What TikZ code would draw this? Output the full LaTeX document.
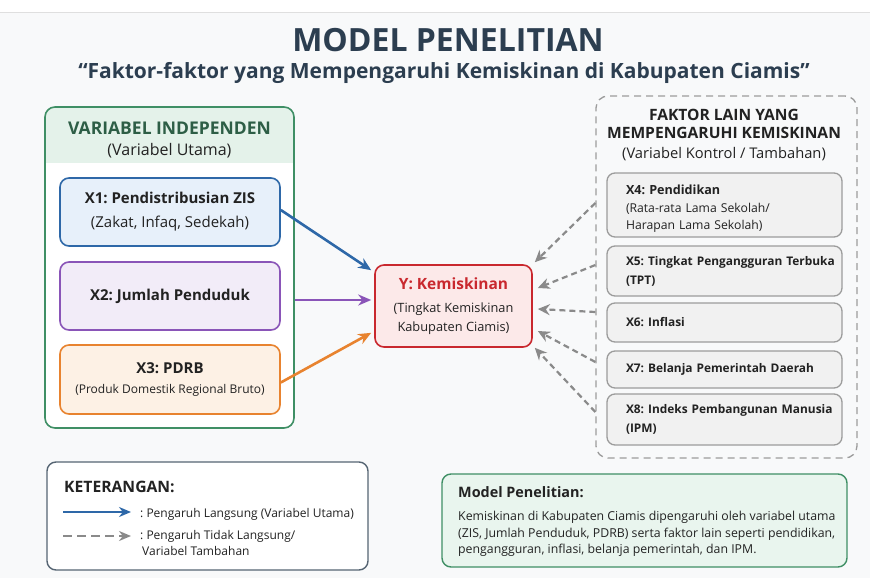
\documentclass[tikz,border=0pt]{standalone}
\usepackage{fontspec}
\setmainfont{Open Sans}
\usetikzlibrary{arrows.meta,calc}
\definecolor{bgc}{HTML}{F8F9FA}
\definecolor{titlec}{HTML}{2C3E50}
\definecolor{txt}{HTML}{222222}
\definecolor{grn}{HTML}{3F8F65}
\definecolor{grnfill}{HTML}{E4F2EA}
\definecolor{grnfill2}{HTML}{E9F5EE}
\definecolor{grntxt}{HTML}{2D5E46}
\definecolor{blu}{HTML}{2E68A8}
\definecolor{blufill}{HTML}{E7F0FA}
\definecolor{pur}{HTML}{8A55B8}
\definecolor{purfill}{HTML}{F2ECF8}
\definecolor{org}{HTML}{E8832F}
\definecolor{orgfill}{HTML}{FDF1E5}
\definecolor{redb}{HTML}{C9282E}
\definecolor{redfill}{HTML}{FCE9E9}
\definecolor{gryb}{HTML}{9C9C9C}
\definecolor{gryfill}{HTML}{F1F1F1}
\definecolor{arrg}{HTML}{8A8A8A}
\tikzset{
  fs/.style={font=\fontsize{#1}{18}\selectfont},
  varbox/.style={draw=#1, line width=1.6pt, rounded corners=9pt, minimum width=220pt, minimum height=68pt, align=center, text=txt},
  ctrlbox/.style={draw=gryb, fill=gryfill, line width=1.3pt, rounded corners=8pt, minimum width=235pt, text width=228pt, inner xsep=3.5pt, align=left, text=txt, execute at begin node={\leftskip=15.5pt\relax\hyphenpenalty=10000\relax}},
  mainarrow/.style={line width=2.6pt, -{Stealth[length=13pt,width=11pt]}},
  dasharrow/.style={arrg, line width=2.2pt, dash pattern=on 6pt off 4pt, -{Stealth[length=12pt,width=11pt]}},
}
\begin{document}
\frenchspacing
\begin{tikzpicture}[x=1pt,y=-1pt]
\useasboundingbox (0,0) rectangle (870,578);
\fill[white] (0,0) rectangle (870,578);
\fill[bgc] (0,12) rectangle (870,578);
\draw[gray!25, line width=0.8pt] (0,12) -- (870,12);

% titles
\node[text=titlec, font=\bfseries\fontsize{32}{36}\selectfont] (title) at (448,40) {MODEL PENELITIAN};
\node[text=titlec, font=\bfseries\fontsize{21}{24}\selectfont] (sub) at (444,73) {“Faktor-faktor yang Mempengaruhi Kemiskinan di Kabupaten Ciamis”};

% left group
\begin{scope}
\clip[rounded corners=10pt] (45,107) rectangle (294,428);
\fill[white] (45,107) rectangle (294,428);
\fill[grnfill] (45,107) rectangle (294,163);
\end{scope}
\node[draw=grn, line width=1.6pt, rounded corners=10pt, minimum width=249pt, minimum height=321pt, inner sep=0pt] (L) at (169.5,267.5) {};
\node[text=grntxt, font=\bfseries\fontsize{17.5}{20}\selectfont] (Lh1) at (169.5,128) {VARIABEL INDEPENDEN};
\node[text=txt, fs=16] (Lh2) at (169.5,151) {(Variabel Utama)};

\node[varbox=blu, fill=blufill, font=\fontsize{15}{19}\selectfont] (X1) at (170,212) {{\bfseries\fontsize{15}{19}\selectfont X1: Pendistribusian ZIS}\\[5pt](Zakat, Infaq, Sedekah)};
\node[varbox=pur, fill=purfill, font=\bfseries\fontsize{15}{19}\selectfont] (X2) at (170,296) {X2: Jumlah Penduduk};
\node[varbox=org, fill=orgfill, minimum height=69pt, font=\fontsize{12}{15}\selectfont] (X3) at (170,379.5) {{\bfseries\fontsize{15}{19}\selectfont X3: PDRB}\\[5pt](Produk Domestik Regional Bruto)};

% Y
\node[draw=redb, fill=redfill, line width=1.6pt, rounded corners=9pt, minimum width=157pt, minimum height=82pt, align=center, text=txt, font=\fontsize{12.8}{19}\selectfont] (Y) at (453.5,306) {{\bfseries\color{redb}\fontsize{15.5}{18}\selectfont Y: Kemiskinan}\\[4pt](Tingkat Kemiskinan\\Kabupaten Ciamis)};

% right group
\node[draw=gryb, fill=bgc, line width=1.3pt, dash pattern=on 7pt off 5pt, rounded corners=12pt, minimum width=261pt, minimum height=362pt, inner sep=0pt] (R) at (726.5,277) {};
\node[text=txt, align=center, font=\bfseries\fontsize{15.6}{18.5}\selectfont] (Rh1) at (724,124) {FAKTOR LAIN YANG\\MEMPENGARUHI KEMISKINAN};
\node[text=txt, fs=14.7] (Rh2) at (724,154) {(Variabel Kontrol / Tambahan)};

\node[ctrlbox, minimum height=64pt, font=\fontsize{12.2}{17}\selectfont] (X4) at (724.5,205) {{\bfseries\fontsize{12.6}{16}\selectfont\rule{0pt}{17pt}X4: Pendidikan}\\[1pt](Rata-rata Lama Sekolah/\\Harapan Lama Sekolah)};
\node[ctrlbox, minimum height=50pt, font=\bfseries\fontsize{11.9}{19}\selectfont] (X5) at (724.5,271) {\mbox{X5: Tingkat Pengangguran Terbuka}\\(TPT)};
\node[ctrlbox, minimum height=39pt, font=\bfseries\fontsize{11.9}{15}\selectfont] (X6) at (724.5,322.5) {X6: Inflasi};
\node[ctrlbox, minimum height=37pt, font=\bfseries\fontsize{11.9}{15}\selectfont] (X7) at (724.5,369.5) {\mbox{X7: Belanja Pemerintah Daerah}};
\node[ctrlbox, minimum height=51pt, font=\bfseries\fontsize{11.9}{19}\selectfont] (X8) at (724.5,419.5) {\mbox{X8: Indeks Pembangunan Manusia}\\(IPM)};

% main arrows
\draw[mainarrow, blu] ($(X1.east)+(0,-2)$) -- ($(Y.north west)+(-3,6)$);
\draw[mainarrow, pur] (L.east |- 0,300) -- ($(Y.west)+(-3,-6)$);
\draw[mainarrow, org] ($(X3.east)+(0,3)$) -- ($(Y.south west)+(-3,-15)$);

% dashed arrows
\coordinate (g1) at (R.west |- 0,203);
\coordinate (g2) at (R.west |- 0,265);
\coordinate (g3) at (R.west |- 0,312);
\coordinate (g4) at (R.west |- 0,362);
\coordinate (g5) at (R.west |- 0,412);
\draw[dasharrow] (g1) -- ($(Y.north east)+(2,-2)$);
\draw[dasharrow] (g2) -- ($(Y.east)+(5,-18)$);
\draw[dasharrow] (g3) -- ($(Y.east)+(5,3)$);
\draw[dasharrow] (g4) -- ($(Y.east)+(5,25)$);
\draw[dasharrow] (g5) -- ($(Y.south east)+(2,0)$);

% legend
\node[draw=titlec!80, fill=white, line width=1.4pt, rounded corners=9pt, minimum width=321pt, minimum height=108pt, inner sep=0pt] (K) at (207.5,516) {};
\node[anchor=west, inner sep=0pt, text=txt, font=\bfseries\fontsize{15.7}{18}\selectfont] (Kh) at (64,487) {KETERANGAN:};
\coordinate (k1a) at (63,512);
\coordinate (k1b) at (131,512);
\coordinate (k2a) at (63,536);
\coordinate (k2b) at (131,536);
\draw[blu, line width=2.4pt, -{Stealth[length=12pt,width=10pt]}] (k1a) -- (k1b);
\draw[arrg, line width=2.2pt, dash pattern=on 9pt off 5pt, -{Stealth[length=12pt,width=10pt]}] (k2a) -- (k2b);
\node[anchor=west, inner sep=0pt, text=txt, fs=12] (kt1) at (140,514) {: Pengaruh Langsung (Variabel Utama)};
\node[anchor=north west, inner sep=0pt, text=txt, align=left, font=\fontsize{12}{16}\selectfont] (kt2) at (140,530) {: Pengaruh Tidak Langsung/\\\hspace*{2pt}Variabel Tambahan};

% model box
\node[draw=grn, fill=grnfill2, line width=1.4pt, rounded corners=9pt, minimum width=405pt, minimum height=93pt, inner sep=0pt] (M) at (644.5,520.5) {};
\node[anchor=north west, text=txt, align=left, inner sep=0pt, font=\fontsize{12.3}{16.5}\selectfont] (Mt) at (458,486) {{\bfseries\fontsize{14.4}{16}\selectfont Model Penelitian:}\\[7pt]Kemiskinan di Kabupaten Ciamis dipengaruhi oleh variabel utama\\(ZIS, Jumlah Penduduk, PDRB) serta faktor lain seperti pendidikan,\\pengangguran, inflasi, belanja pemerintah, dan IPM.};
\end{tikzpicture}
\end{document}
